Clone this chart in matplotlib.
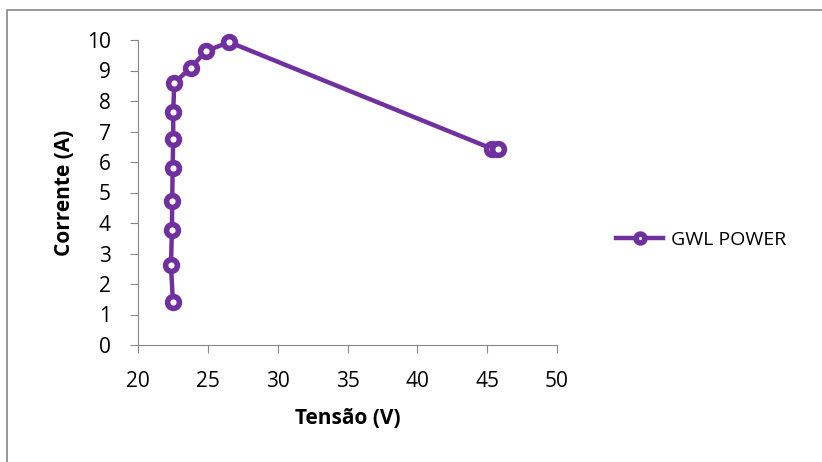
import matplotlib
matplotlib.use("Agg")
import matplotlib.pyplot as plt
from matplotlib.patches import Rectangle

tensao = [22.5, 22.36, 22.43, 22.45, 22.48, 22.52, 22.52, 22.6, 23.79, 24.87, 26.54, 45.32, 45.79]
corrente = [1.42, 2.62, 3.77, 4.73, 5.79, 6.74, 7.65, 8.6, 9.09, 9.64, 9.93, 6.44, 6.41]

plt.rcParams['font.family'] = ['Open Sans', 'DejaVu Sans']
COR = "#7030A0"

fig = plt.figure(figsize=(8.22, 4.62), dpi=100)
ax = fig.add_axes([138/822, 1 - 345/462, (557 - 138)/822, (345 - 40)/462])

# moldura externa do gráfico
fig.patches.append(Rectangle((7/822, -0.1), 1.1, 1 - 10/462 + 0.1, transform=fig.transFigure,
                             fill=False, edgecolor="#888888", linewidth=1.2))

ax.plot(tensao, corrente, color=COR, linewidth=3.2, marker="o", markersize=8.5,
        markerfacecolor="white", markeredgecolor=COR, markeredgewidth=4,
        label="GWL POWER", clip_on=False, zorder=5)

ax.set_xlim(20, 50)
ax.set_ylim(0, 10)
ax.set_xticks(range(20, 51, 5))
ax.set_yticks(range(0, 11))
for s in ["top", "right"]:
    ax.spines[s].set_visible(False)
for s in ["left", "bottom"]:
    ax.spines[s].set_color("#888888")
ax.tick_params(labelsize=15, color="#888888", length=5.5, direction="out")
ax.tick_params(axis="x", pad=13)
ax.tick_params(axis="y", pad=14)
ax.set_xlabel("Tensão (V)", fontsize=15, fontweight="bold", labelpad=12)
ax.set_ylabel("Corrente (A)", fontsize=15, fontweight="bold", labelpad=9)

ax.legend(loc="center left", bbox_to_anchor=(1.1, 0.345), frameon=False, fontsize=14,
          handlelength=2.4, handletextpad=0.4, markerscale=0.75)

fig.savefig("out.png", dpi=100)
